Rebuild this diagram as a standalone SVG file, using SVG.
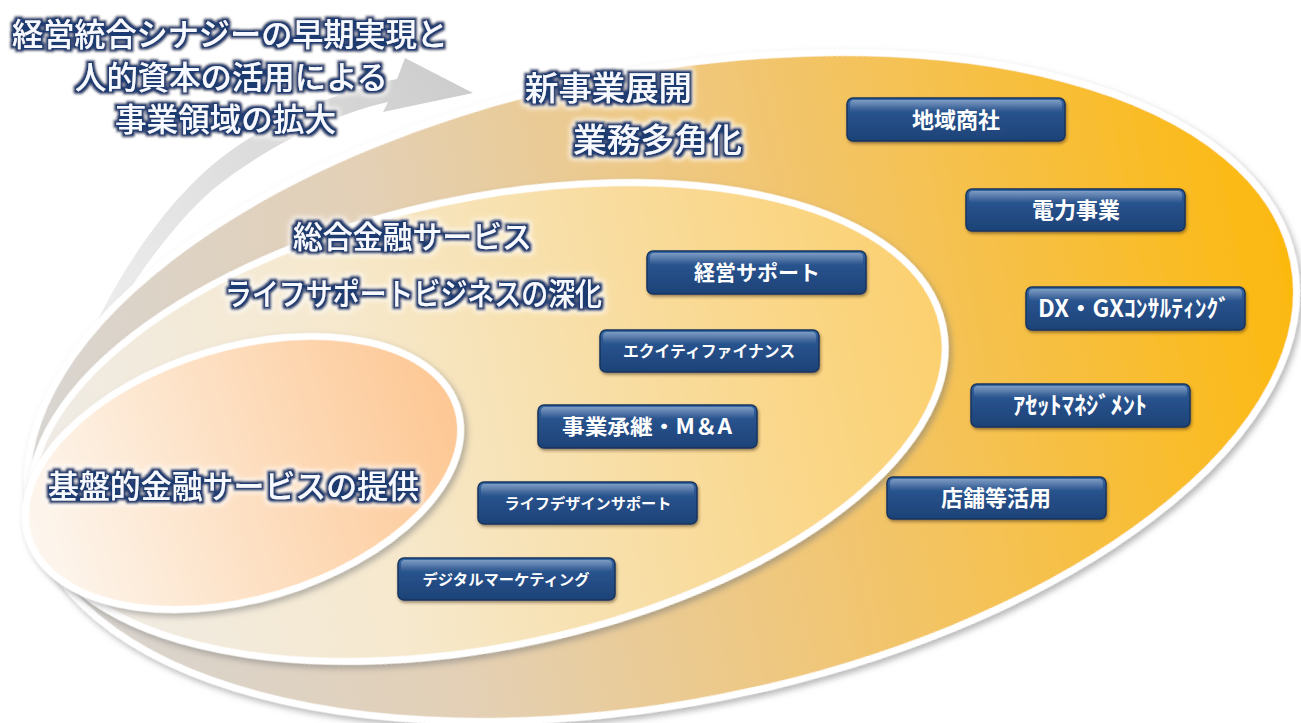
<svg xmlns="http://www.w3.org/2000/svg" width="1301" height="723" viewBox="0 0 1301 723">
<defs>
<style>
.lbl{font-family:"Noto Sans CJK JP","Noto Sans",sans-serif;font-weight:500;fill:#f6f9ff;filter:url(#glow)}
.btn rect.b{fill:url(#bg);stroke:#16345f;stroke-width:1.5;filter:url(#bsh)}
.btn rect.h{fill:url(#hl)}
.btn text{font-family:"Noto Sans CJK JP","Noto Sans",sans-serif;font-weight:700;fill:#ffffff;text-anchor:middle}
.ring{stroke:#ffffff;stroke-width:7;filter:url(#esh)}
</style>
<linearGradient id="gOuter" gradientUnits="userSpaceOnUse" x1="25" y1="0" x2="1300" y2="0">
<stop offset="0" stop-color="#d8d5d2"/>
<stop offset="0.3" stop-color="#e3d0b6"/>
<stop offset="0.6" stop-color="#f1c675"/>
<stop offset="1" stop-color="#fcb910"/>
</linearGradient>
<linearGradient id="gMid" gradientUnits="userSpaceOnUse" x1="30" y1="0" x2="950" y2="0">
<stop offset="0" stop-color="#efebe6"/>
<stop offset="0.35" stop-color="#f6e9cf"/>
<stop offset="1" stop-color="#fbd06f"/>
</linearGradient>
<linearGradient id="gIn" gradientUnits="userSpaceOnUse" x1="25" y1="0" x2="465" y2="0">
<stop offset="0" stop-color="#fdf6ee"/>
<stop offset="1" stop-color="#fdc793"/>
</linearGradient>
<linearGradient id="gArrow" gradientUnits="userSpaceOnUse" x1="60" y1="400" x2="470" y2="90">
<stop offset="0" stop-color="#f4f4f4"/>
<stop offset="0.6" stop-color="#dcdcdc"/>
<stop offset="1" stop-color="#cdcdcd"/>
</linearGradient>
<linearGradient id="bg" x1="0" y1="0" x2="0" y2="1">
<stop offset="0" stop-color="#3a6aa6"/>
<stop offset="0.25" stop-color="#2a5590"/>
<stop offset="1" stop-color="#1d4277"/>
</linearGradient>
<linearGradient id="hl" x1="0" y1="0" x2="0" y2="1">
<stop offset="0" stop-color="#ffffff" stop-opacity="0.35"/>
<stop offset="1" stop-color="#ffffff" stop-opacity="0"/>
</linearGradient>
<filter id="glow" x="-10%" y="-40%" width="120%" height="180%">
<feMorphology in="SourceAlpha" operator="dilate" radius="2.6" result="d"/>
<feGaussianBlur in="d" stdDeviation="0.9" result="b"/>
<feFlood flood-color="#1c3b70"/>
<feComposite in2="b" operator="in" result="g"/>
<feMorphology in="SourceAlpha" operator="dilate" radius="4.5" result="d2"/>
<feGaussianBlur in="d2" stdDeviation="2.5" result="b2"/>
<feFlood flood-color="#ffffff" flood-opacity="0.8"/>
<feComposite in2="b2" operator="in" result="g2"/>
<feMerge><feMergeNode in="g2"/><feMergeNode in="g"/><feMergeNode in="SourceGraphic"/></feMerge>
</filter>
<filter id="esh" x="-10%" y="-10%" width="120%" height="125%">
<feDropShadow dx="2" dy="4" stdDeviation="3" flood-color="#7a7a7a" flood-opacity="0.55"/>
</filter>
<filter id="bsh" x="-10%" y="-30%" width="120%" height="170%">
<feDropShadow dx="1" dy="2" stdDeviation="1.5" flood-color="#3a2a10" flood-opacity="0.5"/>
</filter>
</defs>

<rect width="1301" height="723" fill="#ffffff"/>

<g id="arrow">
<path d="M473,93 L405,58 L397,79 C330,92 250,128 198,178 C148,226 96,305 60,412 C108,312 165,232 210,192 C260,150 330,115 388,102 L383,112 Z" fill="url(#gArrow)"/>
</g>

<g id="outer">
<ellipse class="ring" cx="662" cy="387" rx="644" ry="316" transform="rotate(-11.25 662 387)" fill="url(#gOuter)"/>
</g>
<g id="middle">
<ellipse class="ring" cx="488" cy="422" rx="465" ry="224" transform="rotate(-12 488 422)" fill="url(#gMid)"/>
</g>
<g id="inner">
<ellipse class="ring" cx="243" cy="473" rx="224" ry="126" transform="rotate(-16.6 243 473)" fill="url(#gIn)"/>
</g>

<g id="title">
<text class="lbl" x="12" y="46" font-size="32" textLength="436" lengthAdjust="spacingAndGlyphs">経営統合シナジーの早期実現と</text>
<text class="lbl" x="75" y="89" font-size="32" textLength="313" lengthAdjust="spacingAndGlyphs">人的資本の活用による</text>
<text class="lbl" x="115" y="131" font-size="32" textLength="221" lengthAdjust="spacingAndGlyphs">事業領域の拡大</text>
</g>
<g id="label-new">
<text class="lbl" x="525" y="100" font-size="33" textLength="167" lengthAdjust="spacingAndGlyphs">新事業展開</text>
<text class="lbl" x="573" y="152" font-size="33" textLength="169" lengthAdjust="spacingAndGlyphs">業務多角化</text>
</g>
<g id="label-mid">
<text class="lbl" x="293" y="248" font-size="31" textLength="239" lengthAdjust="spacingAndGlyphs">総合金融サービス</text>
<text class="lbl" x="225" y="305" font-size="31" textLength="377" lengthAdjust="spacingAndGlyphs">ライフサポートビジネスの深化</text>
</g>
<g id="label-inner">
<text class="lbl" x="48" y="498" font-size="32" textLength="371" lengthAdjust="spacingAndGlyphs">基盤的金融サービスの提供</text>
</g>

<g id="btn-chiiki" class="btn">
<rect class="b" x="847" y="98" width="218" height="43" rx="6"/>
<rect class="h" x="850" y="100" width="212" height="12" rx="4"/>
<text x="956" y="128" font-size="22">地域商社</text>
</g>
<g id="btn-denryoku" class="btn">
<rect class="b" x="966" y="189" width="219" height="42" rx="6"/>
<rect class="h" x="969" y="191" width="213" height="12" rx="4"/>
<text x="1076" y="218" font-size="22">電力事業</text>
</g>
<g id="btn-dxgx" class="btn">
<rect class="b" x="1026" y="287" width="219" height="43" rx="6"/>
<rect class="h" x="1029" y="289" width="213" height="12" rx="4"/>
<text x="1134" y="317" font-size="24" textLength="192" lengthAdjust="spacingAndGlyphs">DX・GXｺﾝｻﾙﾃｨﾝｸﾞ</text>
</g>
<g id="btn-asset" class="btn">
<rect class="b" x="971" y="384" width="219" height="43" rx="6"/>
<rect class="h" x="974" y="386" width="213" height="12" rx="4"/>
<text x="1080" y="414" font-size="24" textLength="134" lengthAdjust="spacingAndGlyphs">ｱｾｯﾄﾏﾈｼﾞﾒﾝﾄ</text>
</g>
<g id="btn-tenpo" class="btn">
<rect class="b" x="887" y="477" width="219" height="42" rx="6"/>
<rect class="h" x="890" y="479" width="213" height="12" rx="4"/>
<text x="996" y="506" font-size="22">店舗等活用</text>
</g>
<g id="btn-keiei" class="btn">
<rect class="b" x="647" y="251" width="219" height="43" rx="6"/>
<rect class="h" x="650" y="253" width="213" height="12" rx="4"/>
<text x="757" y="280" font-size="21">経営サポート</text>
</g>
<g id="btn-equity" class="btn">
<rect class="b" x="600" y="330" width="219" height="42" rx="6"/>
<rect class="h" x="603" y="332" width="213" height="12" rx="4"/>
<text x="709" y="357" font-size="16" textLength="172" lengthAdjust="spacingAndGlyphs">エクイティファイナンス</text>
</g>
<g id="btn-shokei" class="btn">
<rect class="b" x="538" y="405" width="219" height="43" rx="6"/>
<rect class="h" x="541" y="407" width="213" height="12" rx="4"/>
<text x="647" y="434" font-size="21" textLength="170" lengthAdjust="spacingAndGlyphs">事業承継・M＆A</text>
</g>
<g id="btn-lifedesign" class="btn">
<rect class="b" x="478" y="482" width="219" height="42" rx="6"/>
<rect class="h" x="481" y="484" width="213" height="12" rx="4"/>
<text x="588" y="509" font-size="15" textLength="167" lengthAdjust="spacingAndGlyphs">ライフデザインサポート</text>
</g>
<g id="btn-digital" class="btn">
<rect class="b" x="398" y="558" width="217" height="42" rx="6"/>
<rect class="h" x="401" y="560" width="211" height="12" rx="4"/>
<text x="506" y="585" font-size="15" textLength="167" lengthAdjust="spacingAndGlyphs">デジタルマーケティング</text>
</g>

<g id="connectors"></g>
</svg>
